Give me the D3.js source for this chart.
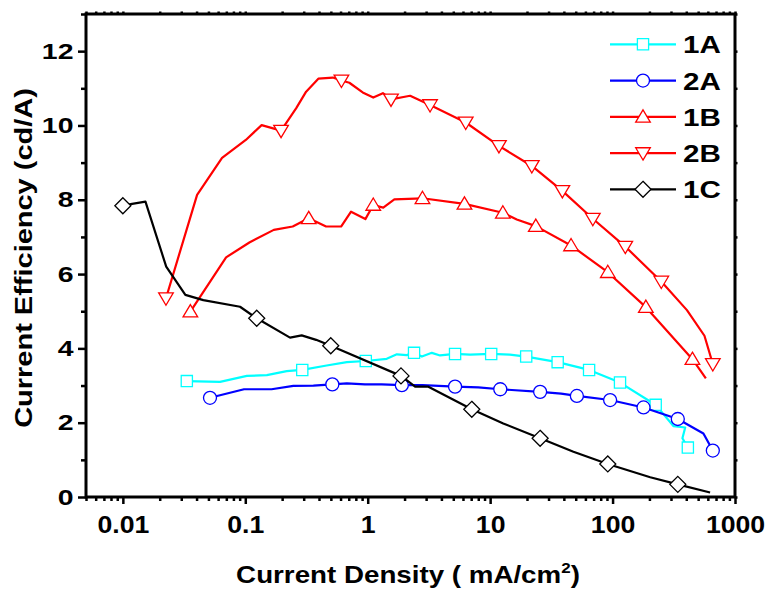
<!DOCTYPE html>
<html><head><meta charset="utf-8">
<script src="https://cdn.jsdelivr.net/npm/d3@7/dist/d3.min.js"></script>
<style>
html,body{margin:0;padding:0;background:#fff;}
svg text{font-family:"Liberation Sans",Arial,Helvetica,sans-serif;font-weight:bold;}
</style></head>
<body>
<svg id="c" width="767" height="592"></svg>
<script>
// ---- data ----
const seriesNames = ["1A","2A","1B","2B","1C"];
const x1A = [0.0333,0.0622,0.103,0.150,0.218,0.292,0.462,0.675,0.964,1.43,1.73,2.08,2.39,2.77,3.34,3.90,5.17,6.86,10.2,14.5,19.7,35.6,64.3,115,203,225,314,392,372,412];
const y1A = [3.12,3.10,3.26,3.28,3.39,3.42,3.54,3.63,3.66,3.72,3.84,3.82,3.88,3.78,3.88,3.81,3.85,3.83,3.85,3.83,3.78,3.63,3.42,3.08,2.57,2.48,1.91,1.87,1.58,1.33];
const m1A = [0,5,8,12,16,18,20,21,22,23,25,29];
const x2A = [0.0515,0.0977,0.164,0.247,0.36,0.514,0.675,0.95,1.3,1.90,2.8,5.17,8.0,12.1,25.6,38,51.1,95.5,179,341,552,659];
const y2A = [2.67,2.90,2.90,2.99,3.00,3.03,3.06,3.03,3.03,3.01,3.01,2.97,2.95,2.90,2.83,2.78,2.72,2.61,2.41,2.10,1.71,1.25];
const m2A = [0,5,9,11,13,14,16,17,18,19,21];
const x1B = [0.0356,0.0697,0.108,0.171,0.244,0.33,0.457,0.606,0.731,0.957,1.11,1.34,1.65,2.80,6.17,12.7,16.5,23.6,45.8,91.4,187,449,578];
const y1B = [4.99,6.45,6.85,7.19,7.28,7.50,7.28,7.28,7.68,7.48,7.86,7.79,8.01,8.04,7.89,7.65,7.47,7.29,6.77,6.05,5.11,3.71,3.19];
const m1B = [0,5,10,13,14,15,17,18,19,20,21];
const x2B = [0.0225,0.0404,0.0646,0.101,0.136,0.196,0.26,0.314,0.395,0.519,0.61,0.708,0.91,1.11,1.33,1.55,2.06,2.22,3.23,6.32,11.8,21.9,38.9,69,127,250,405,563,659];
const y2B = [5.35,8.13,9.13,9.61,10.01,9.86,10.46,10.91,11.26,11.29,11.21,11.15,10.89,10.75,10.87,10.70,10.78,10.80,10.55,10.08,9.45,8.91,8.24,7.49,6.74,5.80,5.03,4.34,3.58];
const m2B = [0,5,10,15,18,19,20,21,22,23,24,25,28];
const x1C = [0.01,0.0119,0.0153,0.0226,0.0324,0.0454,0.0906,0.124,0.232,0.289,0.379,0.499,1.87,2.44,3.13,7.08,12.8,25.6,47.9,91.4,203,341,626];
const y1C = [7.84,7.89,7.95,6.20,5.44,5.30,5.12,4.81,4.29,4.35,4.23,4.07,3.26,2.97,2.97,2.36,1.98,1.58,1.22,0.89,0.53,0.34,0.12];
const m1C = [0,7,11,12,15,17,19,21];
const xMajor = [0.01,0.1,1,10,100,1000];
const xTickLabels = ["0.01","0.1","1","10","100","1000"];
const yMajor = [0,2,4,6,8,10,12];
const yMinor = [1,3,5,7,9,11,13];
const xTitle = "Current Density ( mA/cm";
const yTitle = "Current Efficiency (cd/A)";

const series = [
  {name:"1A", xs:x1A, ys:y1A, mk:m1A, color:"#00ffff", shape:"square"},
  {name:"2A", xs:x2A, ys:y2A, mk:m2A, color:"#0000ff", shape:"circle"},
  {name:"1B", xs:x1B, ys:y1B, mk:m1B, color:"#ff0000", shape:"up"},
  {name:"2B", xs:x2B, ys:y2B, mk:m2B, color:"#ff0000", shape:"down"},
  {name:"1C", xs:x1C, ys:y1C, mk:m1C, color:"#000000", shape:"diamond"}
];

// ---- layout ----
const L=86, R=735, T=14, B=497;
const svg = d3.select("#c");
const x = d3.scaleLog().domain([0.005,1000]).range([L,R]);
const y = d3.scaleLinear().domain([0,13]).range([B,T]);

const xMinor = [];
for (let e=-3;e<3;e++){ for(let k=2;k<=9;k++){ const v=k*Math.pow(10,e); if(v>0.005 && v<1000) xMinor.push(v);} }
xMinor.push(0.005);

function markerPath(shape){
  switch(shape){
    case "square": return "M-5.6,-5.6H5.6V5.6H-5.6Z";
    case "up": return "M0,-7L7.3,5.3H-7.3Z";
    case "down": return "M0,7L7.3,-5.3H-7.3Z";
    case "diamond": return "M0,-8L8,0L0,8L-8,0Z";
  }
  return null;
}
function drawMarker(g, shape, color, cx, cy){
  if(shape==="circle"){
    g.append("circle").attr("cx",cx).attr("cy",cy).attr("r",6.5)
      .attr("fill","#fff").attr("stroke",color).attr("stroke-width",1.3);
  } else {
    g.append("path").attr("d",markerPath(shape)).attr("transform",`translate(${cx},${cy})`)
      .attr("fill","#fff").attr("stroke",color).attr("stroke-width",1.3);
  }
}

// ---- series ----
const plot = svg.append("g");
const line = d3.line().x(d=>x(d[0])).y(d=>y(d[1]));
series.forEach(s=>{
  const pts = s.xs.map((v,i)=>[v,s.ys[i]]);
  plot.append("path").attr("d",line(pts)).attr("fill","none")
    .attr("stroke",s.color).attr("stroke-width",2.2).attr("stroke-linejoin","round");
  s.mk.forEach(i=> drawMarker(plot, s.shape, s.color, x(s.xs[i]), y(s.ys[i])));
});

// ---- axes ----
function styleAxis(g){ g.select(".domain").remove(); g.selectAll("line").attr("stroke","#000").attr("stroke-width",2.5); }
const gxMaj = svg.append("g").attr("transform",`translate(0,${B})`)
  .call(d3.axisBottom(x).tickValues(xMajor).tickSize(7).tickPadding(12).tickFormat((d,i)=>xTickLabels[i]));
styleAxis(gxMaj);
gxMaj.selectAll("text").attr("font-size",24).attr("fill","#000")
  .attr("font-family","Liberation Sans, Arial, sans-serif").attr("font-weight","bold")
  .attr("y",0).attr("dy",null).attr("transform","translate(0,36) scale(1.11,1)");
const gxMin = svg.append("g").attr("transform",`translate(0,${B})`)
  .call(d3.axisBottom(x).tickValues(xMinor).tickSize(4).tickFormat(""));
styleAxis(gxMin);
const gxTop = svg.append("g").attr("transform",`translate(0,${T})`)
  .call(d3.axisTop(x).tickValues(xMajor.concat(xMinor)).tickSize(2.5).tickFormat(""));
styleAxis(gxTop);

const gyMaj = svg.append("g").attr("transform",`translate(${L},0)`)
  .call(d3.axisLeft(y).tickValues(yMajor).tickSize(8).tickPadding(6).tickFormat(d3.format("d")));
styleAxis(gyMaj);
gyMaj.selectAll("text").attr("font-size",22.4).attr("fill","#000")
  .attr("font-family","Liberation Sans, Arial, sans-serif").attr("font-weight","bold")
  .attr("x",0).attr("dy",null).attr("transform","translate(-12.5,7) scale(1.27,1)");
const gyMin = svg.append("g").attr("transform",`translate(${L},0)`)
  .call(d3.axisLeft(y).tickValues(yMinor).tickSize(5).tickFormat(""));
styleAxis(gyMin);
const gyR = svg.append("g").attr("transform",`translate(${R},0)`)
  .call(d3.axisRight(y).tickValues(yMajor.concat(yMinor)).tickSize(2.5).tickFormat(""));
styleAxis(gyR);

// frame
svg.append("rect").attr("x",L).attr("y",T).attr("width",R-L).attr("height",B-T)
  .attr("fill","none").attr("stroke","#000").attr("stroke-width",3);

// ---- axis titles ----
const xg = svg.append("g");
const xt = xg.append("text").attr("x",0).attr("y",0).attr("text-anchor","middle")
  .attr("font-size",24.5).attr("fill","#000");
xt.append("tspan").text(xTitle);
xt.append("tspan").text("2").attr("font-size",15).attr("dy",-10);
xt.append("tspan").text(")").attr("dy",10);
{
  const w = xt.node().getBBox().width;
  const sx = 344 / w;
  xg.attr("transform",`translate(408,583) scale(${sx},1)`);
}

const yg = svg.append("g");
const yt = yg.append("text").attr("x",0).attr("y",0).attr("text-anchor","middle")
  .attr("font-size",23.5).attr("fill","#000").text(yTitle);
{
  const w = yt.node().getBBox().width;
  const sx = 340 / w;
  yg.attr("transform",`translate(32,258) rotate(-90) scale(${sx},1)`);
}

// ---- legend ----
const legY0 = 44.3, legDy = 36.25;
series.forEach((s,i)=>{
  const ly = legY0 + i*legDy;
  svg.append("line").attr("x1",610).attr("x2",676).attr("y1",ly).attr("y2",ly)
    .attr("stroke",s.color).attr("stroke-width",2.2);
  drawMarker(svg, s.shape, s.color, 643, ly);
  svg.append("text").attr("x",0).attr("y",0).attr("font-size",23.5).attr("fill","#000")
    .attr("transform",`translate(683,${ly+9}) scale(1.26,1)`).text(s.name);
});
</script>
</body></html>
